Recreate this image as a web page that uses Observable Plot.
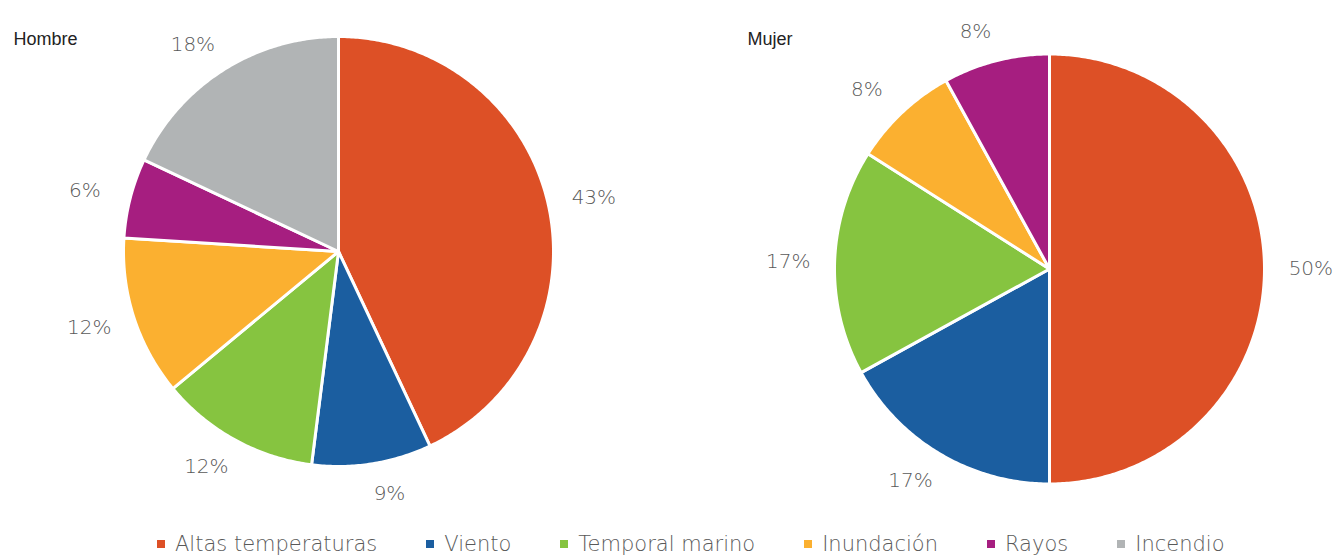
<!DOCTYPE html>
<html>
<head>
<meta charset="utf-8">
<script src="https://cdn.jsdelivr.net/npm/d3@7"></script>
<script src="https://cdn.jsdelivr.net/npm/@observablehq/plot@0.6"></script>
<style>
  html, body { margin: 0; padding: 0; background: #fff; }
  #chart { width: 1339px; position: relative; }
  .legend { display: flex; align-items: center; height: 32px; padding-left: 157px;
            font-family: "DejaVu Sans", sans-serif; font-weight: 200; font-size: 21px; color: #595959; }
  .legend .item { display: flex; align-items: center; margin-right: 49px; white-space: nowrap; }
  .legend .sw { width: 8px; height: 8px; margin-right: 10px; }
</style>
</head>
<body>
<div id="chart"></div>
<script>
// ---- data ----
const categories = ["Altas temperaturas", "Viento", "Temporal marino", "Inundación", "Rayos", "Incendio"];
const colors = ["#DD5026", "#1B5EA0", "#86C440", "#FBB030", "#A61E80", "#B1B4B5"];
const groups = ["Hombre", "Mujer"];
const hombre = [43, 9, 12, 12, 6, 18];
const mujer = [50, 17, 17, 8, 8, 0];

// ---- layout ----
const W = 1339, H = 528;
const layout = [
  {cx: 338, cy: 251, r: 215, titleX: 13, titleY: 39},
  {cx: 1049, cy: 268.5, r: 215, titleX: 747, titleY: 39}
];
const seriesValues = [hombre, mujer];

const slicePts = [];
const labels = [];
const titles = [];
groups.forEach((g, gi) => {
  const L = layout[gi];
  const vals = seriesValues[gi].map((v, i) => ({cat: categories[i], value: v}));
  const arcs = d3.pie().sort(null).value(d => d.value)(vals);
  arcs.forEach((a, i) => {
    if (a.data.value <= 0) return;
    const key = g + "-" + i;
    slicePts.push({key, cat: a.data.cat, x: L.cx, y: L.cy});
    const n = Math.max(2, Math.ceil((a.endAngle - a.startAngle) / 0.01));
    for (let k = 0; k <= n; k++) {
      const t = a.startAngle + (a.endAngle - a.startAngle) * k / n;
      slicePts.push({key, cat: a.data.cat, x: L.cx + L.r * Math.sin(t), y: L.cy - L.r * Math.cos(t)});
    }
    slicePts.push({key, cat: a.data.cat, x: L.cx, y: L.cy});
    const mid = (a.startAngle + a.endAngle) / 2;
    const s = Math.sin(mid), c = Math.cos(mid);
    const rv = L.r - 1.5;
    labels.push({
      x: L.cx + rv * 1.168 * s + 12 * Math.sign(s),
      y: L.cy - rv * 1.15 * c,
      text: a.data.value + "%"
    });
  });
  titles.push({x: L.titleX, y: L.titleY, text: g});
});

const plot = Plot.plot({
  width: W,
  height: H,
  margin: 0,
  x: {domain: [0, W], range: [0, W], axis: null},
  y: {domain: [0, H], range: [0, H], axis: null},
  color: {domain: categories, range: colors},
  style: {background: "#fff"},
  marks: [
    Plot.line(slicePts, {x: "x", y: "y", z: "key", fill: "cat", stroke: "#fff", strokeWidth: 3, strokeLinejoin: "round", curve: "linear"}),
    Plot.text(labels, {x: "x", y: "y", text: "text", fontSize: 20, fill: "#595959", fontFamily: "DejaVu Sans, sans-serif", fontWeight: 200, textAnchor: "middle"}),
    Plot.text(titles, {x: "x", y: "y", text: "text", fontSize: 18, fill: "#222", fontFamily: "Liberation Sans, Arial, sans-serif", fontWeight: "normal", textAnchor: "start"})
  ]
});
document.getElementById("chart").appendChild(plot);

// legend
const legend = document.createElement("div");
legend.className = "legend";
categories.forEach((c, i) => {
  const item = document.createElement("div");
  item.className = "item";
  const sw = document.createElement("span");
  sw.className = "sw";
  sw.style.background = colors[i];
  const tx = document.createElement("span");
  tx.textContent = c;
  item.appendChild(sw);
  item.appendChild(tx);
  legend.appendChild(item);
});
document.getElementById("chart").appendChild(legend);
</script>
</body>
</html>
